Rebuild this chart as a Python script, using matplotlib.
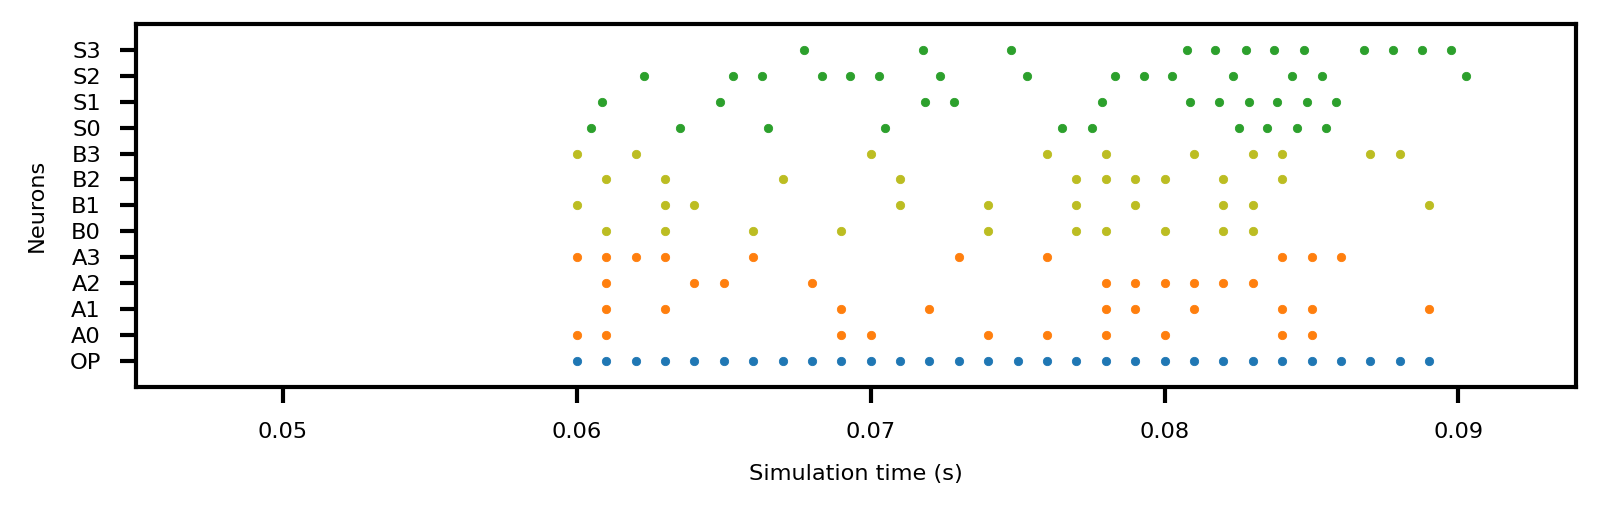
import matplotlib
matplotlib.use("Agg")
import matplotlib.pyplot as plt

neurons = ["OP", "A0", "A1", "A2", "A3", "B0", "B1", "B2", "B3", "S0", "S1", "S2", "S3"]

spk_OP = [0.060, 0.061, 0.062, 0.063, 0.064, 0.065, 0.066, 0.067, 0.068, 0.069,
          0.070, 0.071, 0.072, 0.073, 0.074, 0.075, 0.076, 0.077, 0.078, 0.079,
          0.080, 0.081, 0.082, 0.083, 0.084, 0.085, 0.086, 0.087, 0.088, 0.089]
spk_A0 = [0.060, 0.061, 0.069, 0.070, 0.074, 0.076, 0.078, 0.080, 0.084, 0.085]
spk_A1 = [0.061, 0.063, 0.069, 0.072, 0.078, 0.079, 0.081, 0.084, 0.085, 0.089]
spk_A2 = [0.061, 0.064, 0.065, 0.068, 0.078, 0.079, 0.080, 0.081, 0.082, 0.083]
spk_A3 = [0.060, 0.061, 0.062, 0.063, 0.066, 0.073, 0.076, 0.084, 0.085, 0.086]
spk_B0 = [0.061, 0.063, 0.066, 0.069, 0.074, 0.077, 0.078, 0.080, 0.082, 0.083]
spk_B1 = [0.060, 0.063, 0.064, 0.071, 0.074, 0.077, 0.079, 0.082, 0.083, 0.089]
spk_B2 = [0.061, 0.063, 0.067, 0.071, 0.077, 0.078, 0.079, 0.080, 0.082, 0.084]
spk_B3 = [0.060, 0.062, 0.070, 0.076, 0.078, 0.081, 0.083, 0.084, 0.087, 0.088]
spk_S0 = [0.06048, 0.06350, 0.06650, 0.07048, 0.07650, 0.07752, 0.08252, 0.08350,
          0.08449, 0.08548]
spk_S1 = [0.06085, 0.06486, 0.07184, 0.07285, 0.07786, 0.08085, 0.08184, 0.08286,
          0.08384, 0.08486, 0.08585]
spk_S2 = [0.06228, 0.06531, 0.06629, 0.06833, 0.06929, 0.07027, 0.07235, 0.07531,
          0.07833, 0.07929, 0.08024, 0.08233, 0.08432, 0.08534, 0.09027]
spk_S3 = [0.06774, 0.07177, 0.07476, 0.08075, 0.08173, 0.08276, 0.08374, 0.08476,
          0.08677, 0.08776, 0.08877, 0.08976]

spikes = [spk_OP, spk_A0, spk_A1, spk_A2, spk_A3, spk_B0, spk_B1, spk_B2, spk_B3,
          spk_S0, spk_S1, spk_S2, spk_S3]
group_colors = {"O": "#1f77b4", "A": "#ff7f0e", "B": "#bcbd22", "S": "#2ca02c"}

xticks = [0.05, 0.06, 0.07, 0.08, 0.09]
xticklabels = ["0.05", "0.06", "0.07", "0.08", "0.09"]

plt.rcParams["font.family"] = ["DejaVu Sans"]
fig = plt.figure(figsize=(1600 / 300, 512 / 300), dpi=300)
ax = fig.add_axes([0.085, 0.245, 0.900, 0.708])

for i, (name, times) in enumerate(zip(neurons, spikes)):
    ax.scatter(times, [i] * len(times), s=4.0, color=group_colors[name[0]],
               linewidths=0.2, edgecolors=group_colors[name[0]], zorder=3)

ax.set_xlim(0.045, 0.094)
ax.set_ylim(-1, 13)
ax.set_yticks(range(len(neurons)))
ax.set_yticklabels(neurons)
ax.set_xticks(xticks)
ax.set_xticklabels(xticklabels)

for sp in ax.spines.values():
    sp.set_linewidth(1.0)
ax.tick_params(axis="both", length=3.8, width=1.0, labelsize=5.4, pad=4.6)
ax.set_xlabel("Simulation time (s)", fontsize=5.4, labelpad=5.5)
ax.set_ylabel("Neurons", fontsize=5.4, labelpad=5.5)

fig.savefig("out.png", dpi=300)
